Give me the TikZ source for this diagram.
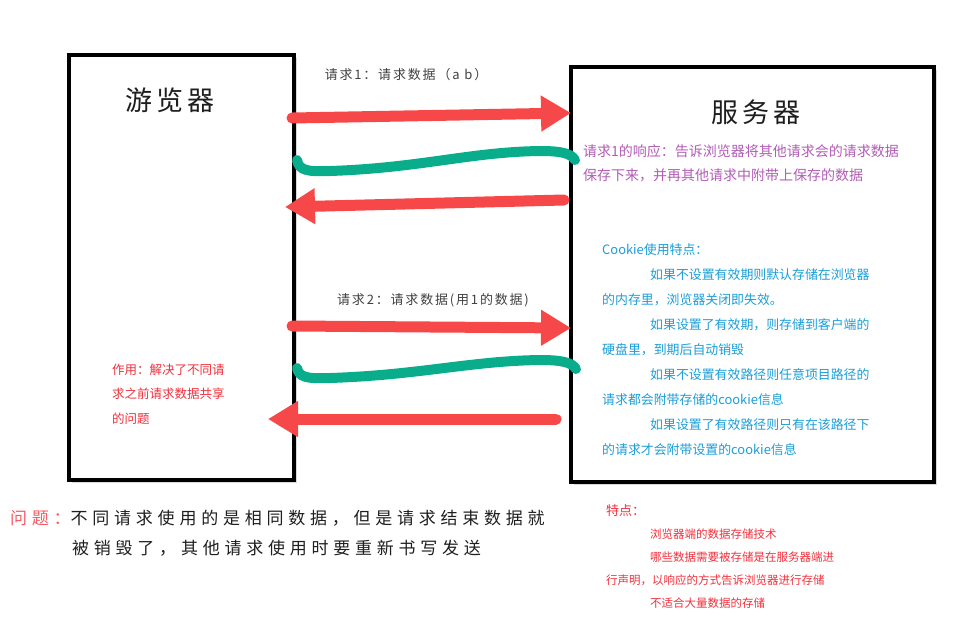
\documentclass[tikz,border=0pt]{standalone}
\usepackage{fontspec}
\setmainfont{Noto Sans CJK SC}
\newfontfamily\spaced[LetterSpace=14]{Noto Sans CJK SC}
\newfontfamily\widespaced[LetterSpace=28]{Noto Sans CJK SC}
\usetikzlibrary{arrows.meta,shadows}
\definecolor{arrowred}{HTML}{F64848}
\definecolor{wavegreen}{HTML}{0AAD8B}
\definecolor{respurple}{HTML}{B25CB6}
\definecolor{cookieblue}{HTML}{1A9ED9}
\definecolor{notered}{HTML}{F2303C}
\definecolor{titlegray}{HTML}{1E1E1E}

\begin{document}
\begin{tikzpicture}[x=1pt, y=-1pt,
    box/.style={draw, line width=3.5pt, fill=white, anchor=north west,
      drop shadow={opacity=0.3, shadow xshift=3pt, shadow yshift=-3pt}},
    title/.style={font=\spaced\fontsize{27}{30}\selectfont, text=titlegray},
    reqlabel/.style={font=\spaced\fontsize{13}{15}\selectfont, text=titlegray!85},
    redarrow/.style={draw=arrowred, line width=11pt, line cap=round,
      -{Triangle[length=30pt, width=34pt]}, arrowred},
    wave/.style={draw=wavegreen, line width=10pt, line cap=round},
    textblock/.style={anchor=west, inner sep=0pt},
    ]
    \useasboundingbox (0,0) rectangle (963,625);

    % Define nodes
    \node (browser) [box, minimum width=225pt, minimum height=425pt] at (67,53) {};
    \node (server) [box, minimum width=363pt, minimum height=415pt] at (569,65) {};
    \node (browsertitle) [title] at (170,100) {游览器};
    \node (servertitle) [title] at (756,112) {服务器};

    \node (req1label) [reqlabel] at (406,75) {请求1：请求数据（a b）};
    \node (req2label) [reqlabel] at (433,300) {请求2：请求数据(用1的数据)};

    % Response text
    \node (resp) [textblock, text=respurple, font=\fontsize{14}{24}\selectfont,
      align=left] at (583,163) {请求1的响应：告诉浏览器将其他请求会的请求数据\\保存下来，并再其他请求中附带上保存的数据};

    % Cookie text
    \node (cookie) [textblock, text=cookieblue, font=\fontsize{12.9}{25}\selectfont,
      align=left] at (602,350) {Cookie使用特点：\\
      \hspace*{48pt}如果不设置有效期则默认存储在浏览器\\
      的内存里，浏览器关闭即失效。\\
      \hspace*{48pt}如果设置了有效期，则存储到客户端的\\
      硬盘里，到期后自动销毁\\
      \hspace*{48pt}如果不设置有效路径则任意项目路径的\\
      请求都会附带存储的cookie信息\\
      \hspace*{48pt}如果设置了有效路径则只有在该路径下\\
      的请求才会附带设置的cookie信息};

    % Effect text
    \node (effect) [textblock, text=notered, font=\fontsize{12.5}{24.5}\selectfont,
      align=left] at (112,394) {作用：解决了不同请\\求之前请求数据共享\\的问题};

    % Problem text
    \node (problem) [textblock, font=\widespaced\fontsize{17}{30}\selectfont, text=titlegray,
      align=left] at (10,533) {{\color{notered!80}问题：}不同请求使用的是相同数据，但是请求结束数据就\\
      \hspace*{62pt}被销毁了，其他请求使用时要重新书写发送};

    % Features text
    \node (features) [textblock, text=notered, font=\fontsize{11.5}{23}\selectfont,
      align=left] at (606,556) {{\fontsize{13}{23}\selectfont 特点：}\\
      \hspace*{44pt}浏览器端的数据存储技术\\
      \hspace*{44pt}哪些数据需要被存储是在服务器端进\\
      行声明，以响应的方式告诉浏览器进行存储\\
      \hspace*{44pt}不适合大量数据的存储};

    % Coordinates
    \coordinate (r1a) at (292,118);
    \coordinate (r1b) at (571,113);
    \coordinate (w1a) at (297,160);
    \coordinate (w1b) at (575,160);
    \coordinate (s1a) at (564,200);
    \coordinate (s1b) at (285,207);
    \coordinate (r2a) at (292,326);
    \coordinate (r2b) at (571,328);
    \coordinate (w2a) at (297,368);
    \coordinate (w2b) at (576,369);
    \coordinate (s2a) at (556,419);
    \coordinate (s2b) at (268,419);

    % Draw edges
    \draw[redarrow] (r1a) -- (r1b);
    \draw[wave] (w1a) .. controls (299,170) and (306,172) .. (330,171)
      .. controls (420,168) and (470,152) .. (540,151)
      .. controls (560,151) and (571,153) .. (w1b);
    \draw[redarrow] (s1a) -- (s1b);
    \draw[redarrow] (r2a) -- (r2b);
    \draw[wave] (w2a) .. controls (299,377) and (306,379) .. (330,378)
      .. controls (420,375) and (470,361) .. (540,360)
      .. controls (560,360) and (572,362) .. (w2b);
    \draw[redarrow] (s2a) -- (s2b);
\end{tikzpicture}
\end{document}
